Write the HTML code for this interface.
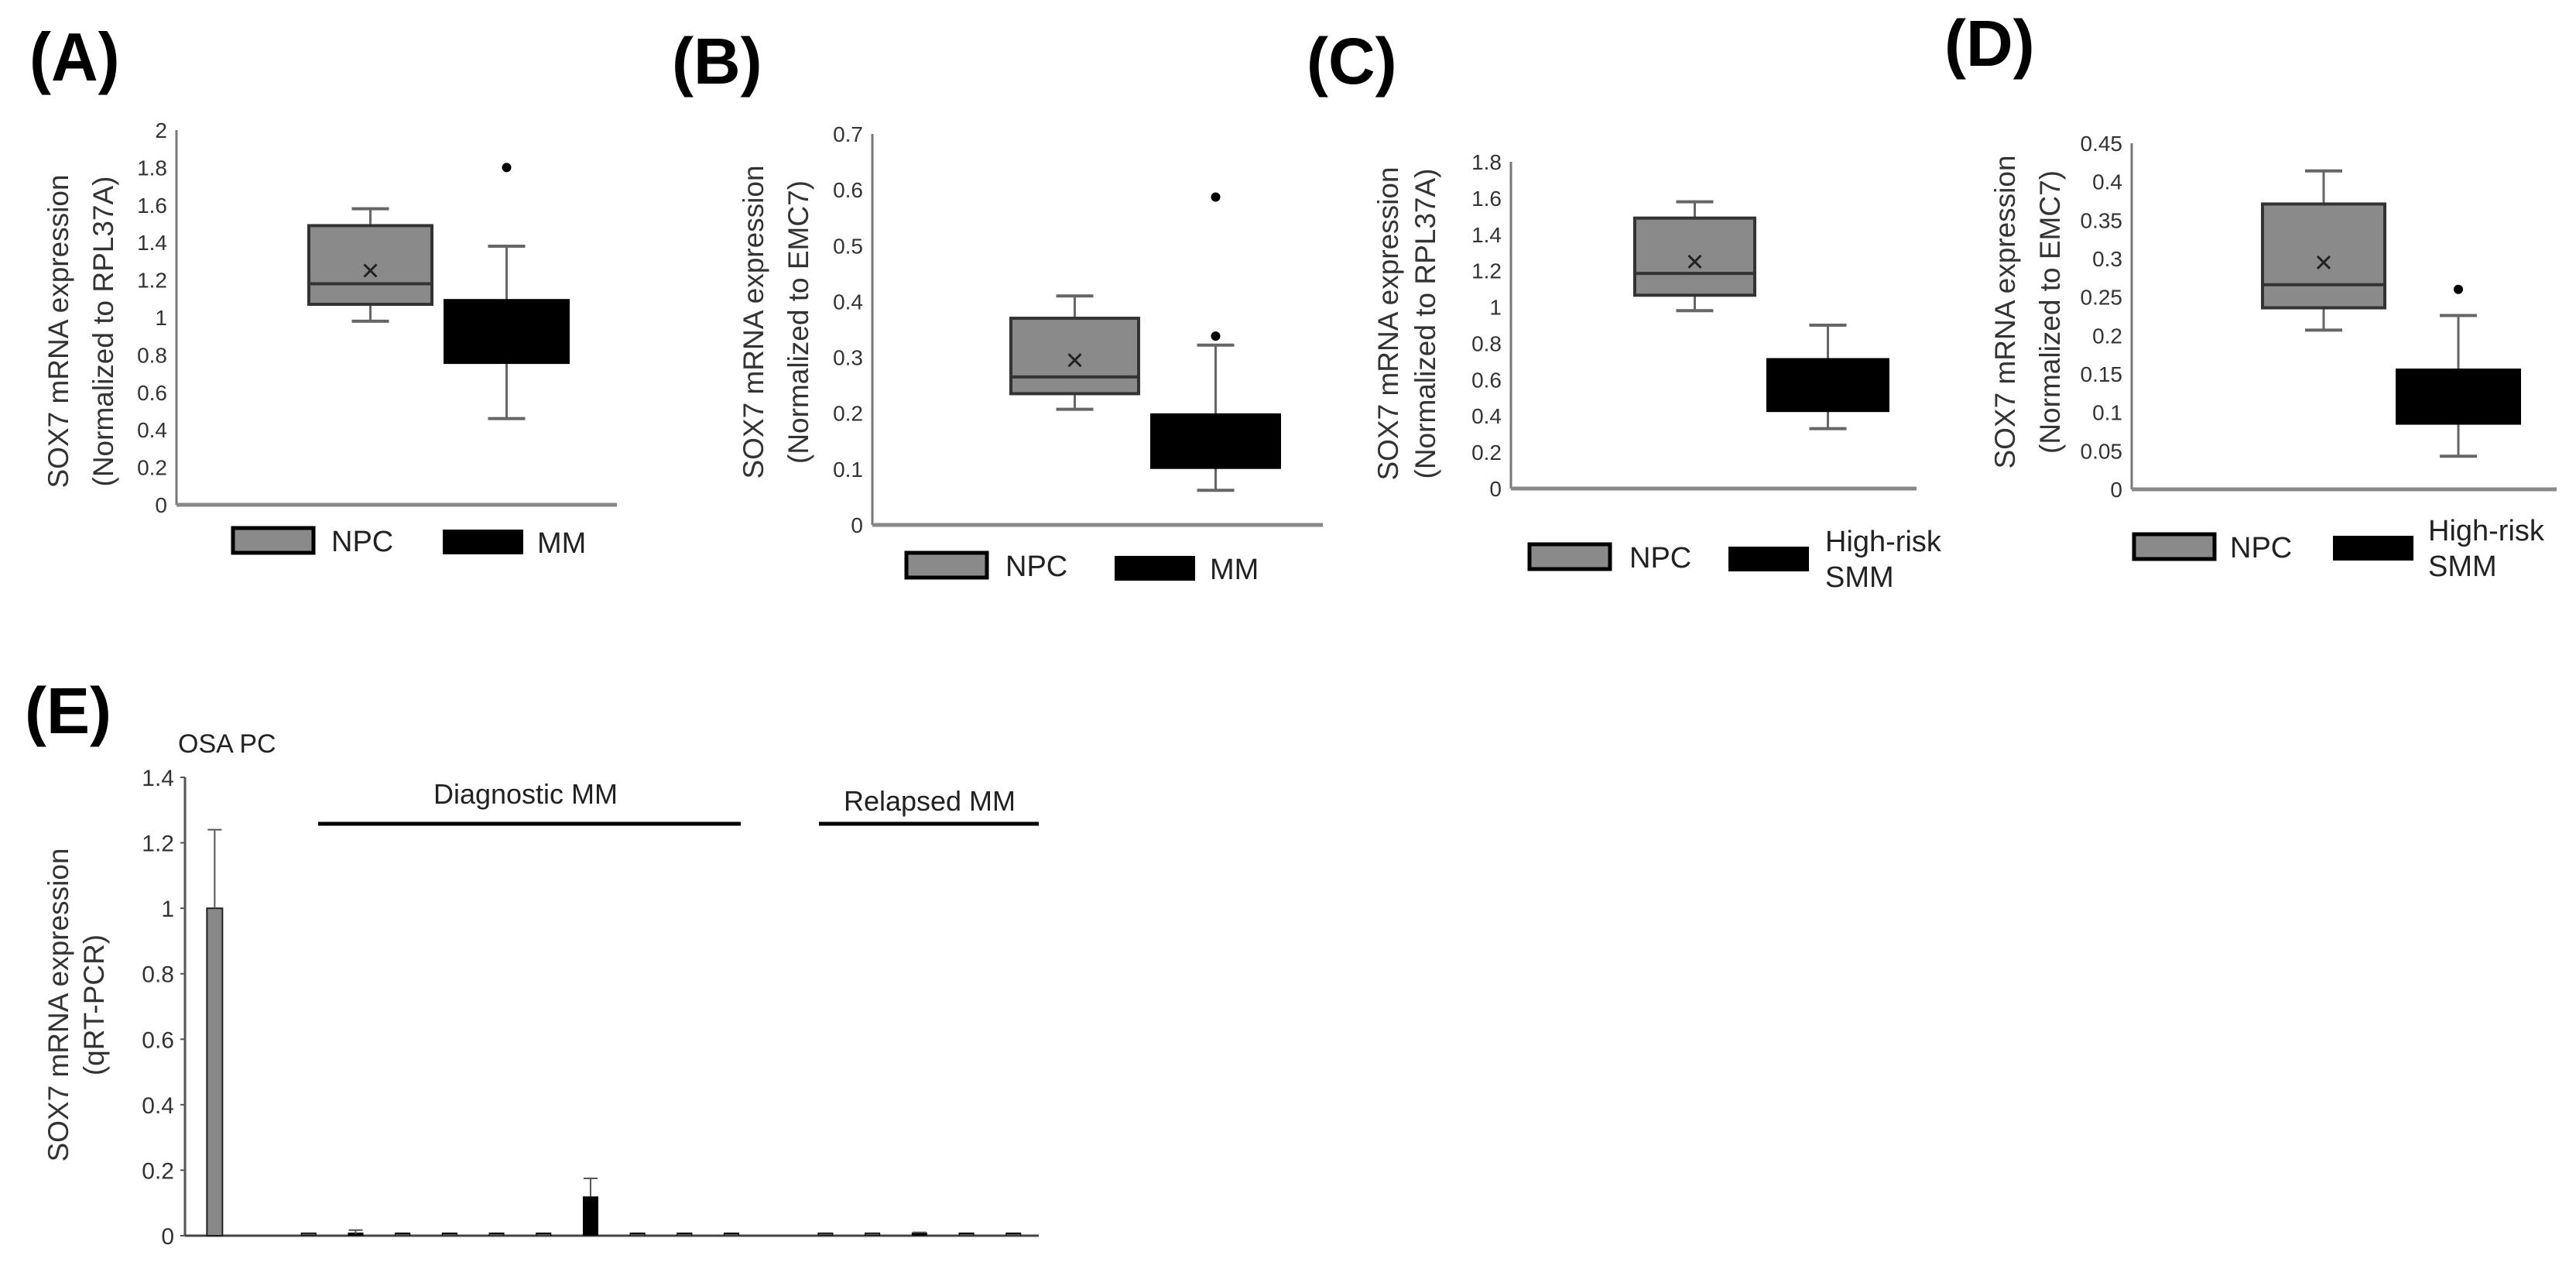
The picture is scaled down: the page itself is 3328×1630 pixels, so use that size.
<!DOCTYPE html>
<html><head><meta charset="utf-8">
<style>
html,body{margin:0;padding:0;background:#fff;}
svg{display:block;font-family:"Liberation Sans",Arial,sans-serif;}
</style></head>
<body>
<svg id="fig" width="3328" height="1630" viewBox="0 0 3328 1630" xmlns="http://www.w3.org/2000/svg">
<text x="38" y="104" font-size="84" font-weight="bold" transform="scale(1,1.05)" transform-origin="38 104">(A)</text>
<text x="868" y="108" font-size="84" font-weight="bold">(B)</text>
<text x="1688" y="108" font-size="84" font-weight="bold">(C)</text>
<text x="2512" y="85" font-size="84" font-weight="bold">(D)</text>
<text x="32" y="947" font-size="84" font-weight="bold">(E)</text>
</svg>
<script>
// ---------- data ----------
const boxGroupsA = ["NPC","MM"];
const boxStatsA = [[0.98,1.07,1.18,1.49,1.58,1.25],[0.46,0.76,0.92,1.09,1.38,null]]; // min,q1,med,q3,max,mean
const outliersA = [[],[1.8]];
const ticksA = ["0","0.2","0.4","0.6","0.8","1","1.2","1.4","1.6","1.8","2"];

const boxGroupsB = ["NPC","MM"];
const boxStatsB = [[0.207,0.235,0.265,0.37,0.41,0.295],[0.062,0.103,0.15,0.197,0.322,null]];
const outliersB = [[],[0.338,0.587]];
const ticksB = ["0","0.1","0.2","0.3","0.4","0.5","0.6","0.7"];

const boxGroupsC = ["NPC","High-risk SMM"];
const boxStatsC = [[0.98,1.065,1.185,1.49,1.58,1.25],[0.33,0.43,0.57,0.71,0.9,null]];
const outliersC = [[],[]];
const ticksC = ["0","0.2","0.4","0.6","0.8","1","1.2","1.4","1.6","1.8"];

const boxGroupsD = ["NPC","High-risk SMM"];
const boxStatsD = [[0.207,0.236,0.266,0.371,0.414,0.295],[0.043,0.086,0.12,0.155,0.226,null]];
const outliersD = [[],[0.26]];
const ticksD = ["0","0.05","0.1","0.15","0.2","0.25","0.3","0.35","0.4","0.45"];

const barSlotsE = [0,2,3,4,5,6,7,8,9,10,11,13,14,15,16,17];
const barValuesE = [1.0,0.003,0.005,0.002,0.002,0.002,0.002,0.12,0.002,0.002,0.002,0.003,0.003,0.008,0.002,0.002];
const barErrorsE = [0.24,0.001,0.012,0.001,0.001,0.001,0.001,0.055,0.001,0.001,0.001,0.001,0.001,0.002,0.001,0.001];
const ticksE = ["0","0.2","0.4","0.6","0.8","1","1.2","1.4"];

// ---------- drawing ----------
const svg = document.getElementById('fig');
const NS = 'http://www.w3.org/2000/svg';
function mk(tag, attrs, parent){
  const e = document.createElementNS(NS, tag);
  for (const k in attrs) e.setAttribute(k, attrs[k]);
  (parent||svg).appendChild(e);
  return e;
}
function txt(s, attrs, parent){ const e = mk('text', attrs, parent); e.textContent = s; return e; }

function boxPanel(p){
  const g = mk('g', {});
  
  
  const ymax = parseFloat(p.ticks[p.ticks.length-1]);
  const Y = v => p.y0 - (v / ymax) * (p.y0 - p.yTop);
  const ax = mk('line', {x1:p.ax, y1:p.yTop, x2:p.ax, y2:p.y0, stroke:'#777', 'stroke-width':3}, g);
  
  
  const bl = mk('line', {x1:p.ax, y1:p.y0, x2:p.xEnd, y2:p.y0, stroke:'#888', 'stroke-width':5}, g);
  
  
  p.ticks.forEach(t => {
    const e = txt(t, {x:p.ax-12, y:Y(parseFloat(t))+10, 'font-size':28, 'text-anchor':'end', fill:'#333'}, g);
    
    
  });
  const tg = mk('g', {transform:`translate(${p.tx},${p.ty}) rotate(-90)`}, g);
  
  
  txt('SOX7 mRNA expression', {x:0, y:0, 'font-size':37, 'text-anchor':'middle', fill:'#333'}, tg);
  txt('(Normalized to ' + p.norm + ')', {x:0, y:p.lineGap, 'font-size':37, 'text-anchor':'middle', fill:'#333'}, tg);
  p.stats.forEach((s, i) => {
    const x0 = p.boxX[i], x1 = x0 + p.boxW, cx = (x0 + x1) / 2;
    const fill = i === 0 ? '#8a8a8a' : '#000';
    const bg = mk('g', {}, g);
    
    
    mk('line', {x1:cx, y1:Y(s[4]), x2:cx, y2:Y(s[3]), stroke:'#666', 'stroke-width':3}, bg);
    mk('line', {x1:cx, y1:Y(s[1]), x2:cx, y2:Y(s[0]), stroke:'#666', 'stroke-width':3}, bg);
    mk('line', {x1:cx-24, y1:Y(s[4]), x2:cx+24, y2:Y(s[4]), stroke:'#666', 'stroke-width':4}, bg);
    mk('line', {x1:cx-24, y1:Y(s[0]), x2:cx+24, y2:Y(s[0]), stroke:'#666', 'stroke-width':4}, bg);
    mk('rect', {x:x0, y:Y(s[3]), width:p.boxW, height:Y(s[1])-Y(s[3]), fill:fill, stroke:i===0?'#333':'#000', 'stroke-width':4}, bg);
    mk('line', {x1:x0, y1:Y(s[2]), x2:x1, y2:Y(s[2]), stroke:i===0?'#333':'#000', 'stroke-width':4}, bg);
    if (s[5] !== null) {
      const my = Y(s[5]);
      mk('path', {d:`M${cx-8},${my-8}L${cx+8},${my+8}M${cx+8},${my-8}L${cx-8},${my+8}`, stroke:'#222', 'stroke-width':3}, bg);
    }
    p.outliers[i].forEach(o => {
      const c = mk('circle', {cx:cx, cy:Y(o), r:6, fill:'#000'}, bg);
      
      
    });
  });
  p.legend.forEach((L, i) => {
    const lg = mk('g', {}, g);
    
    
    mk('rect', {x:L.x, y:L.y, width:104, height:32, fill:i===0?'#8a8a8a':'#000', stroke:'#000', 'stroke-width':i===0?5:0}, lg);
    const lines = p.groups[i].split(' ');
    if (lines.length === 1) {
      txt(lines[0], {x:L.tx, y:L.y+30, 'font-size':38, fill:'#222'}, lg);
    } else {
      txt(lines[0], {x:L.tx, y:L.y+6, 'font-size':38, fill:'#222'}, lg);
      txt(lines[1], {x:L.tx, y:L.y+52, 'font-size':38, fill:'#222'}, lg);
    }
  });
}

boxPanel({name:'panel-a', groups:boxGroupsA, stats:boxStatsA, outliers:outliersA, ticks:ticksA,
  ax:228, yTop:168, y0:652, xEnd:797, boxX:[399,575], boxW:159, tx:88, ty:428, lineGap:58, norm:'RPL37A',
  legend:[{x:301,y:682,tx:428},{x:572,y:684,tx:694}]});
boxPanel({name:'panel-b', groups:boxGroupsB, stats:boxStatsB, outliers:outliersB, ticks:ticksB,
  ax:1127, yTop:173, y0:678, xEnd:1709, boxX:[1306,1488], boxW:165, tx:986, ty:416, lineGap:58, norm:'EMC7',
  legend:[{x:1171,y:714,tx:1299},{x:1440,y:718,tx:1563}]});
boxPanel({name:'panel-c', groups:boxGroupsC, stats:boxStatsC, outliers:outliersC, ticks:ticksC,
  ax:1952, yTop:209, y0:631, xEnd:2476, boxX:[2112,2284], boxW:155, tx:1806, ty:418, lineGap:48, norm:'RPL37A',
  legend:[{x:1976,y:703,tx:2105},{x:2233,y:706,tx:2358}]});
boxPanel({name:'panel-d', groups:boxGroupsD, stats:boxStatsD, outliers:outliersD, ticks:ticksD,
  ax:2754, yTop:185, y0:632, xEnd:3303, boxX:[2923,3097], boxW:158, tx:2603, ty:403, lineGap:58, norm:'EMC7',
  legend:[{x:2757,y:690,tx:2881},{x:3014,y:692,tx:3137}]});

// ---------- panel E bar chart ----------
(function(){
  const g = mk('g', {});
  
  
  const ax = 239, y0 = 1596, yTop = 1004, xEnd = 1342, slotW = 60.7, off = 8;
  const ymax = parseFloat(ticksE[ticksE.length-1]);
  const Y = v => y0 - (v / ymax) * (y0 - yTop);
  const X = s => ax + off + (s + 0.5) * slotW;
  const a = mk('line', {x1:ax, y1:yTop, x2:ax, y2:y0, stroke:'#555', 'stroke-width':3}, g);
  
  
  const b = mk('line', {x1:ax, y1:y0, x2:xEnd, y2:y0, stroke:'#444', 'stroke-width':3}, g);
  
  
  ticksE.forEach(t => {
    const e = txt(t, {x:ax-14, y:Y(parseFloat(t))+11, 'font-size':30, 'text-anchor':'end', fill:'#333'}, g);
    
    
    mk('line', {x1:ax-6, y1:Y(parseFloat(t)), x2:ax, y2:Y(parseFloat(t)), stroke:'#555', 'stroke-width':2}, g);
  });
  const tg = mk('g', {transform:'translate(88,1298) rotate(-90)'}, g);
  
  
  txt('SOX7 mRNA expression', {x:0, y:0, 'font-size':37, 'text-anchor':'middle', fill:'#333'}, tg);
  txt('(qRT-PCR)', {x:0, y:46, 'font-size':37, 'text-anchor':'middle', fill:'#333'}, tg);
  barSlotsE.forEach((s, i) => {
    const cx = X(s), v = barValuesE[i], e = barErrorsE[i];
    const bw = 20;
    const r = mk('rect', {x:cx-bw/2, y:Math.min(Y(v), y0-4), width:bw, height:Math.max(y0-Y(v),4), fill:i===0?'#888':'#000', stroke:'#222', 'stroke-width':i===0?2:0}, g);
    
    
    const eb = mk('path', {d:`M${cx},${Y(v)}V${Y(v+e)}M${cx-9},${Y(v+e)}H${cx+9}`, stroke:'#555', 'stroke-width':2, fill:'none'}, g);
    
    
  });
  const t1 = txt('OSA PC', {x:230, y:972, 'font-size':34, fill:'#222'}, g);
  
  
  const t2 = txt('Diagnostic MM', {x:679, y:1038, 'font-size':36, 'text-anchor':'middle', fill:'#222'}, g);
  
  
  const l2 = mk('line', {x1:411, y1:1064, x2:957, y2:1064, stroke:'#000', 'stroke-width':5}, g);
  
  
  const t3 = txt('Relapsed MM', {x:1201, y:1047, 'font-size':36, 'text-anchor':'middle', fill:'#222'}, g);
  
  
  const l3 = mk('line', {x1:1058, y1:1064, x2:1342, y2:1064, stroke:'#000', 'stroke-width':5}, g);
  
  
})();
</script>
</body></html>
